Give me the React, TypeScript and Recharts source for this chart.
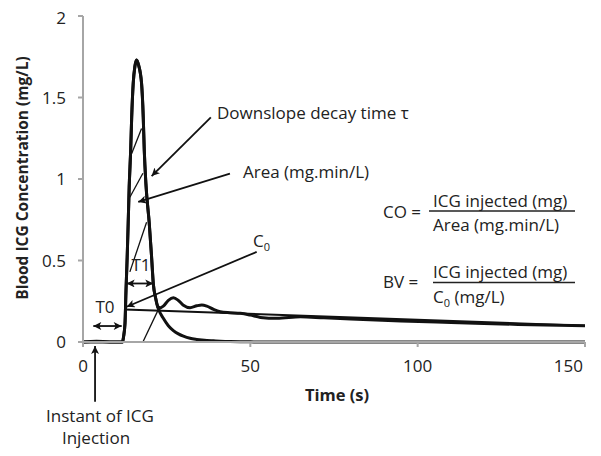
import React from "react";
import { LineChart, Line, XAxis, YAxis, ReferenceLine } from "recharts";

// time (s) and concentration (mg/L)
const time = [
  0, 4, 8, 11.8, 12.1, 12.55, 12.85, 13.2, 13.5, 13.8, 14.25, 14.55, 15.0, 15.5, 16.0, 16.6,
  17.5, 18.0, 18.3, 18.8, 19.8, 20.5, 21.0, 21.7, 22.5, 24, 25.5, 27, 28.5, 30, 32, 34, 35.5,
  37, 39, 41, 44, 47, 50, 53, 58, 65, 72, 80, 95, 110, 130, 150,
];
const concentration = [
  0, 0.005, 0, 0, 0.03, 0.114, 0.318, 0.52, 0.727, 0.95, 1.18, 1.38, 1.586, 1.69, 1.73, 1.7,
  1.586, 1.38, 1.18, 0.97, 0.727, 0.52, 0.36, 0.27, 0.206, 0.22, 0.255, 0.271, 0.255, 0.225,
  0.21, 0.222, 0.227, 0.22, 0.2, 0.186, 0.18, 0.176, 0.165, 0.151, 0.145, 0.155, 0.148, 0.141,
  0.129, 0.12, 0.108, 0.1,
];
// first-pass curve (recirculation removed)
const firstPass = [
  0, 0, 0, 0, 0.03, 0.114, 0.318, 0.52, 0.727, 0.95, 1.18, 1.38, 1.586, 1.69, 1.73, 1.7,
  1.586, 1.38, 1.18, 0.97, 0.727, 0.52, 0.36, 0.27, 0.206, 0.145, 0.1, 0.07, 0.05, 0.036,
  0.023, 0.016, 0.012, 0.009, 0.007, 0.005, 0.003, 0.002, 0.001, 0, 0, 0, 0, 0, 0, 0, 0, 0,
];
const xTicks = [0, 50, 100, 150];
const yTicks = [0, 0.5, 1, 1.5, 2];

// annotation lines, in data units [t, c]
const c0Line = [[12.5, 0.2], [150, 0.1]];
const hatchLines = [
  [[14.55, 1.157], [17.5, 1.31]],
  [[14.0, 0.888], [17.9, 1.035]],
  [[14.0, 0.43], [19.0, 0.735]],
  [[17.9, 0], [23.0, 0.22]],
];
const singleArrows = [
  [[38.2, 1.378], [20.5, 1.018]],
  [[43.9, 1.033], [16.5, 0.859]],
  [[51.9, 0.553], [13.06, 0.216]],
];
const doubleArrows = [
  [[13.05, 0.359], [21.0, 0.359]],
  [[3.08, 0.098], [11.56, 0.098]],
];
const injectionArrow = [[3.6, -0.367], [3.6, -0.0245]];

const data = time.map((t, i) => ({ t, conc: concentration[i], fit: firstPass[i] }));

const FONT = '"Open Sans", sans-serif';
const GREY = "#a6a6a6";
const seg = (s: number[][]) => s.map(([x, y]) => ({ x, y }));

function XTick(props: any) {
  const { x, y, payload } = props;
  const last = payload.value === 150;
  return (
    <text x={last ? x + 2 : x} y={y} dy="0.71em" textAnchor={last ? "end" : "middle"}
      fontSize={17} fontFamily={FONT} fill="#222">
      {payload.value}
    </text>
  );
}

export default function App() {
  return (
    <div style={{ position: "relative", width: 585, height: 440 }}>
      <LineChart width={585} height={440} data={data}
        margin={{ top: 8, right: 8, left: 0, bottom: 76 }}>
        <XAxis dataKey="t" type="number" domain={[0, 150]} ticks={xTicks}
          axisLine={{ stroke: GREY, strokeWidth: 2 }} tickLine={{ stroke: GREY, strokeWidth: 2 }}
          tickSize={5} tickMargin={13} height={30} tick={<XTick />} />
        <YAxis type="number" domain={[0, 2]} ticks={yTicks} width={75}
          axisLine={{ stroke: GREY, strokeWidth: 2 }} tickLine={{ stroke: GREY, strokeWidth: 2 }}
          tickSize={5} tickMargin={12}
          tick={{ fontSize: 17, fontFamily: FONT, fill: "#222" }} />
        <ReferenceLine segment={seg(c0Line)} stroke="#111" strokeWidth={2} />
        {hatchLines.map((s, i) => (
          <ReferenceLine key={"h" + i} segment={seg(s)} stroke="#111" strokeWidth={1.3} />
        ))}
        <Line dataKey="fit" type="monotone" stroke="#111" strokeWidth={3} dot={false}
          isAnimationActive={false} />
        <Line dataKey="conc" type="monotone" stroke="#111" strokeWidth={3} dot={false}
          isAnimationActive={false} />
        {singleArrows.map((s, i) => (
          <ReferenceLine key={"a" + i} segment={seg(s)} stroke="#111" strokeWidth={1.8}
            markerEnd="url(#ah)" />
        ))}
        {doubleArrows.map((s, i) => (
          <ReferenceLine key={"d" + i} segment={seg(s)} stroke="#111" strokeWidth={1.8}
            markerStart="url(#ah)" markerEnd="url(#ah)" />
        ))}
        <ReferenceLine segment={seg(injectionArrow)} stroke="#111" strokeWidth={1.8}
          markerEnd="url(#ah)" ifOverflow="visible" />
      </LineChart>
      <svg width={585} height={440}
        style={{ position: "absolute", left: 0, top: 0, pointerEvents: "none" }}
        fontFamily={FONT} fontSize={17} fill="#222">
        <defs>
          <marker id="ah" viewBox="0 0 10 10" refX={10} refY={5} markerWidth={9}
            markerHeight={8} markerUnits="userSpaceOnUse" orient="auto-start-reverse">
            <path d="M0,0 L10,5 L0,10 L2.5,5 z" fill="#111" />
          </marker>
        </defs>
        <text x={20} y={170} textAnchor="middle" fontWeight="bold" fontSize={15.5}
          transform="rotate(-90 20 170)">Blood ICG Concentration (mg/L)</text>
        <text x={329} y={393} textAnchor="middle" fontWeight="bold" fontSize={16.5}>Time (s)</text>

        <text x={209} y={111}>Downslope decay time  τ</text>
        <text x={235} y={170}>Area (mg.min/L)</text>
        <text x={245} y={239}>C<tspan fontSize={11} dy={4}>0</tspan></text>
        <text x={133} y={263} textAnchor="middle">T1</text>
        <text x={97} y={305} textAnchor="middle">T0</text>
        <text x={92} y={414} textAnchor="middle">Instant of ICG</text>
        <text x={88} y={436} textAnchor="middle">Injection</text>

        <text x={375} y={210}>CO =</text>
        <text x={425} y={199}>ICG injected (mg)</text>
        <line x1={421} x2={567} y1={203} y2={203} stroke="#222" strokeWidth={1.5} />
        <text x={425} y={223}>Area (mg.min/L)</text>

        <text x={375} y={280}>BV =</text>
        <text x={425} y={270}>ICG injected (mg)</text>
        <line x1={425} x2={567} y1={274.5} y2={274.5} stroke="#222" strokeWidth={1.5} />
        <text x={425} y={295}>C<tspan fontSize={11} dy={4}>0</tspan><tspan dy={-4}> (mg/L)</tspan></text>
      </svg>
    </div>
  );
}
